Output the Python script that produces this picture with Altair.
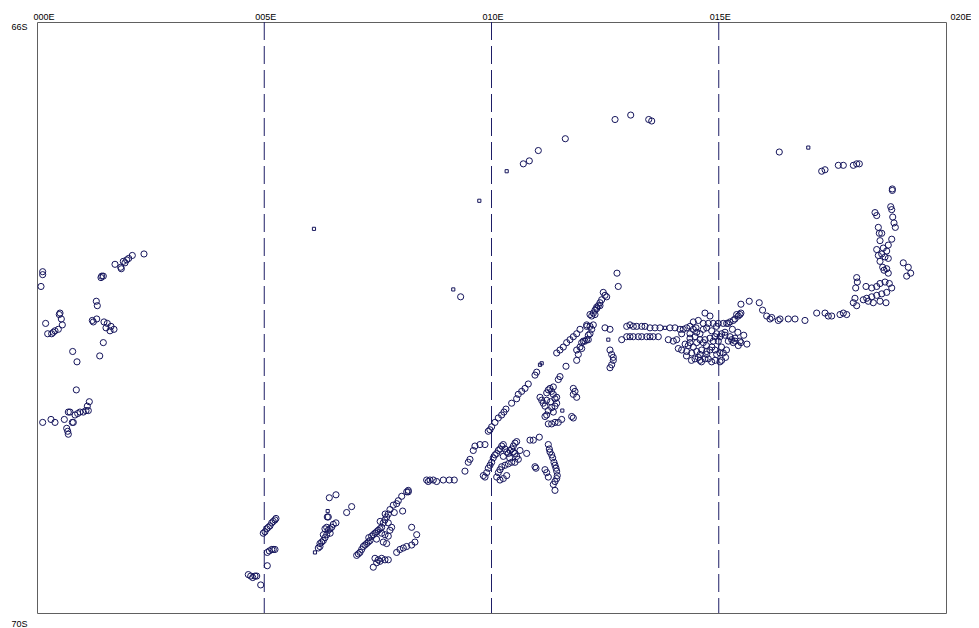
import altair as alt
import pandas as pd

# longitude (deg E), latitude (deg S)
west = [(0.125,67.69),(0.125,67.71),(0.088,67.79),(0.19,68.04),(0.235,68.11),(0.323,68.11),(0.359,68.10),
        (0.396,68.09),(0.469,68.08),(0.557,68.05),(0.506,67.97),(0.49,67.98),(0.535,68.01),(0.785,68.23),
        (0.88,68.30),(0.865,68.49),(1.151,68.57),(1.107,68.60),(1.129,68.63),(1.078,68.63),(1.019,68.64),
        (0.946,68.64),(0.895,68.65),(0.836,68.66),(0.799,68.71),(0.777,68.71),(0.726,68.64),(0.689,68.64),
        (0.601,68.69),(0.396,68.71),(0.308,68.69),(0.125,68.71),(0.653,68.75),(0.675,68.77),(0.689,68.79),
        (1.305,67.89),(1.327,67.92),(1.217,68.02),(1.239,68.03),(1.314,68.01),(1.474,68.03),(1.547,68.04),
        (1.518,68.07),(1.606,68.09),(1.694,68.08),(1.628,68.06),(1.459,68.17),(1.38,68.26),(1.424,67.72),
        (1.408,67.73),(1.459,67.72),(1.716,67.64),(1.842,67.66),(1.855,67.67),(1.936,67.63),(1.974,67.61),
        (2.018,67.60),(2.097,67.58),(2.354,67.57),(1.899,67.62)]

south = [(4.979,69.46),(5.016,69.45),(5.054,69.43),(5.089,69.42),(5.126,69.41),(5.164,69.39),(5.199,69.38),
         (5.236,69.37),(5.258,69.36),(5.067,69.59),(5.111,69.58),(5.164,69.57),(5.199,69.57),(5.236,69.57),
         (5.067,69.68),(4.649,69.74),(4.702,69.75),(4.746,69.76),(4.796,69.75),(4.834,69.75),(4.922,69.81),
         (6.431,69.22),(6.578,69.20),(6.387,69.35),(6.813,69.32),(6.923,69.28),(6.189,69.56),(6.226,69.53),
         (6.264,69.52),(6.299,69.51),(6.336,69.49),(6.374,69.47),(6.409,69.44),(6.446,69.43),(6.484,69.42),
         (6.519,69.40),(6.578,69.39),(6.226,69.55),(6.336,69.43),(6.374,69.42),(6.409,69.35),
         (7.033,69.61),(7.069,69.60),(7.106,69.59),(7.143,69.57),(7.179,69.55),(7.216,69.54),(7.253,69.53),
         (7.289,69.52),(7.326,69.51),(7.363,69.48),(7.399,69.47),(7.436,69.46),(7.473,69.45),(7.509,69.44),
         (7.546,69.43),(7.583,69.42),(7.619,69.39),(7.656,69.37),(7.693,69.35),(7.729,69.33),(7.766,69.30),
         (7.839,69.27),(7.913,69.26),(7.949,69.24),(8.024,69.21),(8.169,69.18),
         (7.583,69.46),(7.656,69.47),(7.729,69.48),(7.619,69.52),(7.693,69.53),(7.766,69.44),(7.803,69.42),
         (7.729,69.39),(7.861,69.32),(8.045,69.31),(8.243,69.42),(8.354,69.47),(8.316,69.52),(8.243,69.54),
         (8.133,69.55),(8.059,69.56),(7.986,69.57),(7.913,69.59),(7.436,69.63),(7.509,69.64),(7.583,69.63),
         (7.656,69.64),(7.729,69.64),(7.399,69.69),(7.473,69.66),(7.546,69.65),
         (7.30,69.49),(7.47,69.50),(7.55,69.38),(7.66,69.33),(6.30,69.47),(6.45,69.46)]

central = [(9.321,67.86),(8.134,69.18),(8.169,69.17),(8.573,69.10),(8.609,69.11),(8.646,69.10),(8.719,69.10),
           (8.793,69.11),(8.939,69.10),(9.071,69.10),(9.181,69.10),(9.416,69.04),(9.489,68.98),(9.526,68.96),
           (9.599,68.90),(9.636,68.87),(9.746,68.86),(9.856,68.86),(9.929,68.77),(9.966,68.76),(10.003,68.74),
           (10.076,68.71),(10.149,68.68),(10.223,68.66),(10.274,68.64),(10.318,68.62),(10.443,68.58),
           (10.553,68.55),(10.589,68.52),(10.664,68.50),(10.737,68.48),(10.809,68.45),(10.957,68.39),
           (10.994,68.37),(11.434,68.24),(11.507,68.22),(11.580,68.20),(11.654,68.17),(11.727,68.15),
           (11.800,68.13),(11.874,68.11),(11.947,68.08),(12.095,68.06),(12.167,68.06),(12.205,67.99),
           (12.240,67.97),(12.315,67.94),(12.387,67.92),(12.277,67.98),(11.874,68.22),(11.910,68.25),
           (11.874,68.29),(11.984,68.21),(12.020,68.16),(12.130,68.15),(12.167,68.11),(12.205,68.08),
           (11.639,68.33),(11.507,68.40),(11.470,68.42),
           (11.067,68.54),(11.104,68.56),(11.139,68.58),(11.177,68.60),(11.214,68.51),(11.250,68.49),
           (11.287,68.48),(11.360,68.47),(11.360,68.52),(11.397,68.55),(11.434,68.58),(11.397,68.60),
           (11.324,68.61),(11.250,68.63),(11.214,68.66),(11.177,68.67),(11.250,68.72),(11.324,68.72),
           (11.397,68.71),(11.470,68.71),(11.544,68.69),(11.360,68.64),(11.434,68.54),(11.214,68.56),
           (11.800,68.48),(11.837,68.50),(11.874,68.54),(11.800,68.52),(11.764,68.67),(11.800,68.68),
           (9.894,69.05),(9.820,69.07),(9.857,69.08),(9.929,69.02),(9.967,69.00),(10.004,68.98),(10.039,68.95),
           (10.077,68.93),(10.114,68.92),(10.150,68.90),(10.187,68.89),(10.224,68.87),(10.260,68.86),
           (10.297,68.89),(10.334,68.91),(10.370,68.92),(10.407,68.90),(10.444,68.89),(10.480,68.91),
           (10.517,68.92),(10.554,68.94),(10.590,68.96),(10.517,68.98),(10.444,68.98),(10.370,68.99),
           (10.297,69.00),(10.224,69.01),(10.187,69.03),(10.150,69.05),(10.114,69.08),(10.187,69.10),
           (10.260,69.09),(10.334,69.07),(10.517,68.85),(10.627,68.90),(10.774,68.92),(10.847,68.83),
           (10.920,68.83),(11.052,68.81),(10.554,68.84),(10.957,69.01),(10.979,69.02),
           (11.250,68.86),(11.272,68.89),(11.287,68.91),(11.324,68.93),(11.346,68.95),(11.375,68.98),
           (11.397,69.00),(11.419,69.02),(11.434,69.04),(11.448,69.07),(11.434,69.09),(11.397,69.11),
           (11.397,69.17),(11.214,69.05),(11.250,69.08),(11.177,69.03),(11.360,69.13),
           (10.40,68.95),(10.26,68.94),(10.48,68.87),(11.30,68.57),(11.32,68.50)]

east = [(12.789,67.79),(12.761,67.70),(12.459,67.83),(12.497,67.85),(12.534,67.86),(12.424,67.88),(12.387,67.90),
        (12.314,67.93),(12.277,67.95),(12.167,67.98),(12.350,67.92),(12.094,68.05),(12.240,68.05),(12.130,68.12),
        (12.094,68.15),(12.057,68.16),(11.984,68.17),(11.947,68.20),(12.497,68.07),(12.607,68.08),
        (12.607,68.22),(12.644,68.25),(12.680,68.27),(12.680,68.29),(12.644,68.32),(12.607,68.34),
        (12.975,68.06),(13.047,68.05),(13.120,68.06),(13.195,68.06),(13.305,68.06),(13.377,68.06),
        (13.487,68.07),(13.597,68.07),(13.707,68.07),(13.927,68.07),(14.037,68.07),(14.147,68.08),
        (12.865,68.15),(12.975,68.13),(13.047,68.13),(13.120,68.13),(13.230,68.13),(13.305,68.13),
        (13.415,68.13),(13.487,68.13),(13.560,68.13),(13.670,68.13),(13.890,68.15),(14.000,68.16),(14.074,68.15),
        (14.697,67.97),(14.807,67.99),(14.440,68.03),(14.550,68.02),(14.660,68.04),(14.770,68.04),(14.880,68.04),
        (14.990,68.04),(15.100,68.04),(15.210,68.04),(15.320,68.02),(15.430,67.99),(15.467,67.98),(15.394,67.98),
        (14.220,68.08),(14.295,68.07),(14.367,68.06),(14.440,68.08),(14.515,68.10),(14.587,68.11),(14.184,68.11),
        (14.367,68.11),(14.660,68.08),(14.734,68.07),(14.844,68.09),(14.954,68.11),(15.064,68.11),(15.137,68.10),
        (14.367,68.14),(14.477,68.13),(14.587,68.15),(14.697,68.15),(14.807,68.14),(14.917,68.13),(15.027,68.13),
        (15.137,68.12),(15.247,68.13),(15.357,68.14),(15.467,68.16),(15.430,68.19),(14.367,68.17),(14.514,68.17),
        (14.660,68.17),(14.990,68.16),(14.880,68.16),(14.110,68.21),(14.184,68.22),(14.294,68.23),(14.404,68.24),
        (14.514,68.23),(14.624,68.22),(14.734,68.23),(14.807,68.22),(14.917,68.22),(15.027,68.24),(15.100,68.24),
        (14.440,68.20),(14.587,68.25),(14.734,68.25),(14.954,68.25),(14.477,68.28),(14.587,68.29),(14.697,68.28),
        (14.844,68.30),(15.027,68.30),(14.550,68.27),(15.210,68.16),(15.320,68.17),(15.488,67.91),(15.671,67.89),
        (15.891,67.90),(15.964,67.95),(16.055,67.99),(15.174,68.04),(15.247,68.03),(15.357,68.01),(15.488,67.97),
        (15.284,68.15),(15.357,68.16),(15.488,68.17),(15.064,68.29),(16.127,68.01),(16.310,68.02),
        (14.26,68.18),(14.33,68.19),(14.29,68.26),(14.40,68.29),(14.62,68.30),(14.77,68.28),(14.92,68.29),
        (15.15,68.27),(14.73,68.19),(14.85,68.20),(15.06,68.20),(15.17,68.22),(14.50,68.07),(14.95,68.06),
        (15.30,68.08),(15.42,68.10),(15.55,68.12),(15.62,68.18)]

far_east = [(16.332,66.88),(17.265,67.01),(17.338,67.00),(17.631,66.97),(17.741,66.97),(17.961,66.97),
            (18.035,66.96),(18.093,66.96),(18.819,67.13),(18.819,67.14),(18.784,67.25),(18.806,67.27),
            (18.438,67.29),(18.475,67.31),(18.828,67.32),(18.856,67.36),(18.885,67.39),(18.511,67.39),
            (18.533,67.43),(18.586,67.43),(18.806,67.47),(18.548,67.48),(18.730,67.51),(18.620,67.53),
            (18.475,67.54),(18.695,67.55),(18.586,67.57),(18.511,67.58),(18.658,67.59),(18.548,67.62),
            (18.730,67.60),(18.607,67.66),(18.695,67.67),(18.636,67.68),(18.730,67.70),(19.060,67.63),
            (19.170,67.66),(19.223,67.70),(19.135,67.72),(18.035,67.73),(18.049,67.76),(18.013,67.80),
            (18.240,67.79),(18.365,67.80),(18.475,67.79),(18.548,67.77),(18.658,67.76),(18.753,67.77),
            (18.806,67.80),(18.695,67.83),(18.586,67.84),(18.475,67.85),(18.365,67.86),(18.255,67.87),
            (18.180,67.88),(18.290,67.89),(18.400,67.90),(17.997,67.87),(17.960,67.90),(18.035,67.92),
            (18.680,67.90),(18.548,67.89),(16.165,68.00),(16.348,68.01),(16.530,68.01),(16.678,68.01),
            (16.897,68.02),(17.155,67.97),(17.338,67.97),(17.410,67.99),(17.485,67.99),(17.668,67.98),
            (17.741,67.97),(17.815,67.98)]

arc = [(10.700,66.96),(10.832,66.94),(11.030,66.87),(11.624,66.79),(12.718,66.66),(13.063,66.63),
       (13.459,66.66),(13.525,66.67)]

squares = [(6.094,67.40),(9.732,67.21),(10.334,67.01),(16.970,66.85),(9.159,67.81),(6.396,69.31),
           (6.116,69.59),(11.067,68.32),(11.104,68.31),(11.558,68.63),(12.570,68.15),(13.817,68.07)]

meridian_lons = [5, 10, 15]
x_ticks = [0, 5, 10, 15, 20]
y_ticks = [66, 70]

circle_pts = west + south + central + east + far_east + arc
circles = pd.DataFrame(circle_pts, columns=["lon", "lat"])
sq = pd.DataFrame(squares, columns=["lon", "lat"])
meridians = pd.DataFrame({"lon": meridian_lons})

FONT = "Liberation Sans"
NAVY = "#15155c"

x_scale = alt.Scale(domain=[0, 20], nice=False, zero=False)
y_scale = alt.Scale(domain=[66, 70], reverse=True, nice=False, zero=False)

x_axis = alt.Axis(
    orient="top", values=x_ticks, title=None, ticks=False, domain=False, grid=False,
    labelExpr="(datum.value < 10 ? '00' : '0') + datum.value + 'E'",
    labelFont=FONT, labelFontSize=9, labelColor="#000000",
    labelBaseline="alphabetic", labelPadding=3,
    labelAlign={"condition": {"test": "datum.value == 0 || datum.value == 20", "value": "left"}, "value": "center"},
    labelOffset={"condition": [{"test": "datum.value == 0", "value": -4},
                               {"test": "datum.value == 20", "value": 4}], "value": 1},
    labelOverlap=False, labelFlush=False,
)
y_axis = alt.Axis(
    orient="left", values=y_ticks, title=None, ticks=False, domain=False, grid=False,
    labelExpr="datum.value + 'S'",
    labelFont=FONT, labelFontSize=9, labelColor="#000000",
    labelAlign="left", labelPadding=26, labelBaseline="top",
    labelOffset={"condition": {"test": "datum.value == 70", "value": 6}, "value": 0},
    labelOverlap=False, labelFlush=False,
)

rules = alt.Chart(meridians).mark_rule(
    color="#1e1e66", strokeWidth=1, strokeDash=[18, 6]
).encode(x=alt.X("lon:Q", scale=x_scale, axis=x_axis))

pts = alt.Chart(circles).mark_point(
    shape="circle", filled=False, size=38, strokeWidth=1, color=NAVY, opacity=1
).encode(
    x=alt.X("lon:Q", scale=x_scale, axis=x_axis),
    y=alt.Y("lat:Q", scale=y_scale, axis=y_axis),
)

sqs = alt.Chart(sq).mark_point(
    shape="square", filled=False, size=10, strokeWidth=1, color=NAVY, opacity=1
).encode(
    x=alt.X("lon:Q", scale=x_scale),
    y=alt.Y("lat:Q", scale=y_scale),
)

chart = alt.layer(rules, pts, sqs).properties(
    width=909, height=591,
    padding={"left": 29, "top": 14, "right": 25, "bottom": 15},
    autosize=alt.AutoSizeParams(type="none"),
    background="#ffffff",
).configure_view(stroke="#606060", strokeWidth=1)

chart.save("out.html", embed_options={"renderer": "svg", "actions": False})
